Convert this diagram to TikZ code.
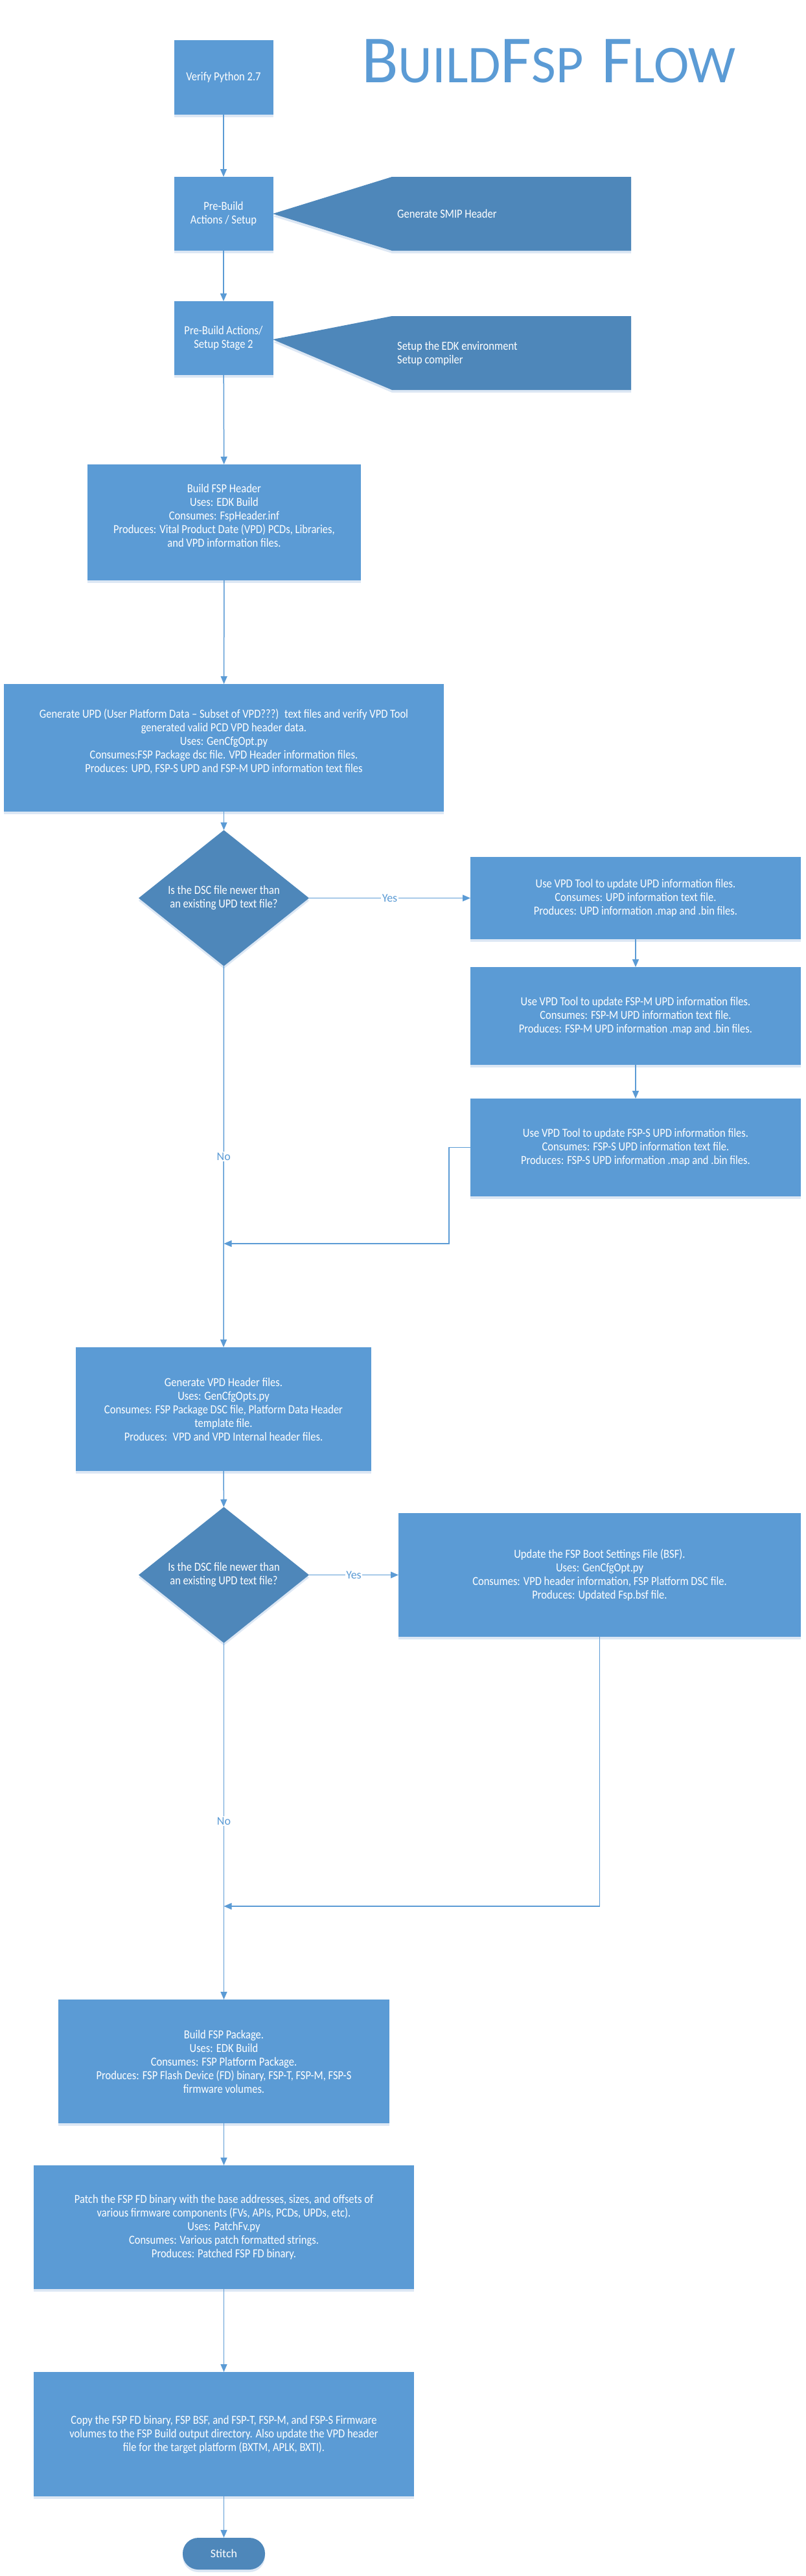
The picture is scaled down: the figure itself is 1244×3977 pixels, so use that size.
\documentclass[tikz,border=0pt]{standalone}
\usepackage{fontspec}
\setmainfont{Carlito}[FakeStretch=0.87]
\newfontfamily\titlefont{Carlito}
\usetikzlibrary{shapes.geometric,arrows.meta,shadows}
\definecolor{boxblue}{HTML}{5B9BD5}
\definecolor{darkblue}{HTML}{4E87BA}
\definecolor{lineblue}{HTML}{5B9BD5}
\definecolor{shadowblue}{HTML}{DCE7F4}
\newcommand\tbig[1]{{\fontsize{104}{104}\selectfont #1}}
\newcommand\tsmall[1]{{\fontsize{82}{82}\selectfont #1}}
\tikzset{
  softshadow/.style={drop shadow={shadow xshift=0pt,shadow yshift=-4pt,fill=shadowblue,opacity=1}},
  procbox/.style={rectangle, fill=boxblue, text=white, align=center,
    font=\fontsize{19}{21}\selectfont, inner sep=0pt, outer sep=0pt, softshadow},
  decision/.style={diamond, fill=darkblue, text=white, align=center,
    font=\fontsize{19}{21}\selectfont, inner sep=0pt, outer sep=0pt,
    minimum width=263pt, minimum height=179pt, softshadow},
  calltext/.style={text=white, align=left, font=\fontsize{19}{21}\selectfont, inner sep=0pt, anchor=west},
  terminal/.style={rectangle, rounded corners=24pt, fill=darkblue, text=white,
    font=\titlefont\fontsize{18}{21}\selectfont, minimum width=127pt, minimum height=49pt, inner sep=0pt, softshadow},
  conn/.style={draw=lineblue, line width=1.5pt, -{Triangle[length=12pt,width=10pt]}},
  lbl/.style={fill=white, text=lineblue, font=\titlefont\fontsize{18}{18}\selectfont, inner sep=1.5pt}
}
\begin{document}
\begin{tikzpicture}[x=1pt,y=-1pt]
\useasboundingbox (0,0) rectangle (1244,3977);
\fill[white] (0,0) rectangle (1244,3977);

% title
\node[anchor=base west, inner sep=0pt, text=lineblue, font=\titlefont] (title) at (558,128)
  {\tbig{B}\tsmall{UILD}\tbig{F}\tsmall{SP}\hspace{28pt}\tbig{F}\tsmall{LOW}};

% main column
\node[procbox, minimum width=153pt, minimum height=115pt] (verify) at (345,119.5) {Verify Python 2.7};
\node[procbox, minimum width=153pt, minimum height=114pt] (prebuild) at (345,330) {Pre-Build\\Actions / Setup};
\node[procbox, minimum width=153pt, minimum height=114pt] (stage2) at (345,522) {Pre-Build Actions/\\Setup Stage 2};

% callouts
\fill[darkblue, softshadow] (421,330) -- (605,273) -- (974,273) -- (974,387) -- (605,387) -- cycle;
\node[calltext] (smip) at (613,330) {Generate SMIP Header};
\fill[darkblue, softshadow] (421,524) -- (605,488) -- (974,488) -- (974,602) -- (605,602) -- cycle;
\node[calltext] (edk) at (613,545.5) {Setup the EDK environment\\Setup compiler};

\node[procbox, minimum width=422pt, minimum height=179pt] (hdr) at (346,806.5)
  {Build FSP Header\\Uses: EDK Build\\Consumes: FspHeader.inf\\Produces: Vital Product Date (VPD) PCDs, Libraries,\\and VPD information files.\\\mbox{}};
\node[procbox, minimum width=679pt, minimum height=197pt] (updgen) at (345.5,1154.5)
  {Generate UPD (User Platform Data – Subset of VPD???)~ text files and verify VPD Tool\\generated valid PCD VPD header data.\\Uses: GenCfgOpt.py\\Consumes:FSP Package dsc file. VPD Header information files.\\Produces: UPD, FSP-S UPD and FSP-M UPD information text files\\\mbox{}};

\node[decision] (d1) at (345.5,1386.5) {Is the DSC file newer than\\an existing UPD text file?};

\node[procbox, minimum width=510pt, minimum height=127pt] (upd1) at (981,1386.5)
  {Use VPD Tool to update UPD information files.\\Consumes: UPD information text file.\\Produces: UPD information .map and .bin files.};
\node[procbox, minimum width=510pt, minimum height=151pt] (upd2) at (981,1568.5)
  {Use VPD Tool to update FSP-M UPD information files.\\Consumes: FSP-M UPD information text file.\\Produces: FSP-M UPD information .map and .bin files.};
\node[procbox, minimum width=510pt, minimum height=151pt] (upd3) at (981,1771.5)
  {Use VPD Tool to update FSP-S UPD information files.\\Consumes: FSP-S UPD information text file.\\Produces: FSP-S UPD information .map and .bin files.};

\node[procbox, minimum width=456pt, minimum height=191pt] (vpd) at (345,2175.5)
  {Generate VPD Header files.\\Uses: GenCfgOpts.py\\Consumes: FSP Package DSC file, Platform Data Header\\template file.\\Produces:~ VPD and VPD Internal header files.};

\node[decision] (d2) at (345.5,2431.5) {Is the DSC file newer than\\an existing UPD text file?};

\node[procbox, minimum width=621pt, minimum height=191pt] (bsf) at (925.5,2431.5)
  {Update the FSP Boot Settings File (BSF).\\Uses: GenCfgOpt.py\\Consumes: VPD header information, FSP Platform DSC file.\\Produces: Updated Fsp.bsf file.};

\node[procbox, minimum width=511pt, minimum height=191pt] (pkg) at (345.5,3182.5)
  {Build FSP Package.\\Uses: EDK Build\\Consumes: FSP Platform Package.\\Produces: FSP Flash Device (FD) binary, FSP-T, FSP-M, FSP-S\\firmware volumes.};
\node[procbox, minimum width=587pt, minimum height=191pt] (patch) at (345.5,3438.5)
  {Patch the FSP FD binary with the base addresses, sizes, and offsets of\\various firmware components (FVs, APIs, PCDs, UPDs, etc).\\Uses: PatchFv.py\\Consumes: Various patch formatted strings.\\Produces: Patched FSP FD binary.};
\node[procbox, minimum width=587pt, minimum height=192pt] (copy) at (345.5,3758)
  {Copy the FSP FD binary, FSP BSF, and FSP-T, FSP-M, and FSP-S Firmware\\volumes to the FSP Build output directory. Also update the VPD header\\file for the target platform (BXTM, APLK, BXTI).};
\node[terminal] (stitch) at (345.5,3942.5) {Stitch};

% connectors
\draw[conn] (verify) -- (prebuild);
\draw[conn] (prebuild) -- (stage2);
\draw[conn] (stage2) -- (hdr);
\draw[conn] (hdr) -- (updgen);
\draw[conn] (updgen) -- (d1);
\draw[conn] (d1) -- node[lbl] (yes1) {Yes} (upd1);
\draw[conn] (d1) -- node[lbl] (no1) {No} (vpd);
\draw[conn] (upd1) -- (upd2);
\draw[conn] (upd2) -- (upd3);
\coordinate (m1) at (345.5,1920);
\draw[conn] (upd3.west) -- ++(-33,0) |- (m1);
\draw[conn] (vpd) -- (d2);
\draw[conn] (d2) -- node[lbl] (yes2) {Yes} (bsf);
\draw[conn] (d2) -- node[lbl] (no2) {No} (pkg);
\coordinate (m2) at (345.5,2943);
\draw[conn] (bsf.south) |- (m2);
\draw[conn] (pkg) -- (patch);
\draw[conn] (patch) -- (copy);
\draw[conn] (copy) -- (stitch);
\end{tikzpicture}
\end{document}
